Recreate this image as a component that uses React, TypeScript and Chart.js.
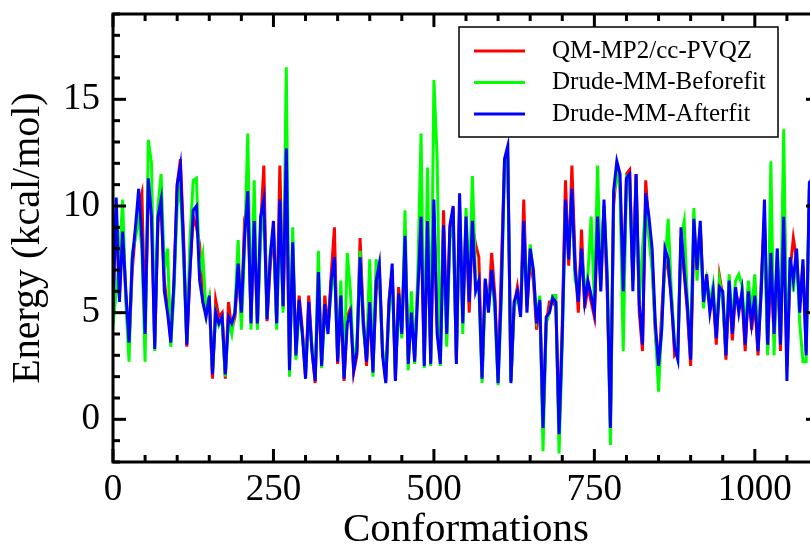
import React, { useEffect, useRef } from 'react';
import { Chart, registerables } from 'chart.js';

Chart.register(...registerables);

// Conformation spacing between sampled points
const STEP = 5;

// QM-MP2/cc-PVQZ energies (kcal/mol)
const QM_MP2 = [
  5.2, 9.8, 5.8, 9.0, 5.8, 3.5, 7.0, 8.8, 10.0, 10.6,
  4.3, 10.5, 9.8, 3.5, 9.2, 10.0, 6.5, 5.2, 3.8, 6.3,
  11.0, 12.2, 8.5, 3.4, 7.0, 9.5, 9.0, 8.2, 5.5, 5.0,
  5.6, 1.9, 5.6, 4.8, 5.0, 1.9, 5.5, 4.2, 4.8, 7.0,
  4.8, 9.4, 10.0, 4.8, 9.0, 4.4, 9.0, 11.9, 4.6, 7.2,
  8.8, 4.6, 11.9, 5.2, 11.5, 2.5, 8.0, 3.2, 5.8, 4.2,
  2.0, 5.8, 3.3, 1.7, 6.5, 2.7, 5.8, 4.2, 6.8, 9.0,
  2.6, 5.5, 1.8, 4.8, 5.2, 2.2, 3.0, 8.5, 4.8, 2.5,
  5.2, 2.4, 6.0, 7.0, 3.2, 1.8, 5.6, 7.0, 1.9, 6.2,
  4.2, 8.2, 2.8, 5.4, 2.9, 6.4, 9.0, 2.7, 9.0, 2.8,
  9.5, 4.5, 2.8, 9.8, 4.2, 9.0, 9.5, 2.8, 10.0, 4.8,
  9.3, 5.0, 9.0, 8.2, 7.6, 2.0, 6.5, 5.2, 7.8, 5.8,
  1.8, 7.1, 12.0, 12.5, 1.8, 5.3, 6.2, 5.0, 10.3, 5.3,
  7.5, 6.5, 4.2, 5.5, -0.3, 4.5, 5.5, 5.5, 5.3, -0.5,
  4.5, 11.2, 7.2, 11.9, 7.5, 5.0, 8.9, 5.2, 6.2, 5.5,
  4.8, 9.0, 6.5, 10.0, 6.0, -0.3, 10.0, 11.8, 11.0, 5.5,
  11.5, 11.7, 6.5, 11.5, 5.0, 3.2, 11.2, 9.0, 7.5, 4.0,
  2.2, 5.0, 7.5, 7.0, 5.8, 3.0, 3.2, 8.5, 6.8, 5.0,
  2.5, 8.5, 7.5, 9.0, 5.8, 6.5, 5.2, 5.8, 3.5, 6.7,
  5.8, 2.8, 6.3, 3.7, 6.0, 5.3, 5.8, 3.2, 6.2, 4.2,
  5.5, 3.0, 6.5, 9.5, 3.2, 7.5, 3.8, 7.5, 3.2, 11.5,
  2.5, 7.0, 8.5, 7.5, 5.5, 7.2, 3.2, 10.8, 11.0, 10.8,
];

// Drude-MM before fit
const DRUDE_BEFORE = [
  4.4, 6.0, 7.5, 10.3, 5.5, 2.7, 7.8, 8.5, 9.5, 8.0,
  2.7, 13.1, 12.0, 3.2, 10.0, 11.5, 7.0, 8.0, 3.4, 6.0,
  10.0, 10.9, 7.5, 3.6, 8.5, 11.2, 11.3, 6.8, 7.7, 5.0,
  5.7, 2.2, 5.0, 4.4, 4.7, 2.0, 4.6, 4.0, 5.2, 8.4,
  4.2, 8.0, 13.4, 4.2, 11.2, 4.2, 8.5, 10.0, 4.8, 7.8,
  9.0, 4.2, 9.8, 5.0, 16.5, 2.0, 9.0, 2.8, 5.2, 4.0,
  2.2, 5.0, 3.4, 2.0, 7.9, 2.4, 5.0, 4.4, 6.0, 7.3,
  2.9, 6.5, 2.1, 7.8, 6.0, 2.5, 3.6, 7.9, 4.2, 3.0,
  7.5, 2.0, 7.5, 6.5, 3.3, 2.0, 5.0, 6.8, 2.1, 5.5,
  3.8, 9.8, 2.3, 6.0, 2.6, 7.0, 13.4, 2.4, 11.8, 2.5,
  15.9, 12.3, 2.5, 8.5, 3.4, 8.5, 9.0, 2.9, 9.8, 4.0,
  9.9, 6.0, 11.4, 6.5, 6.2, 1.7, 6.0, 5.5, 6.8, 5.0,
  1.6, 5.5, 11.8, 12.6, 1.8, 5.2, 5.8, 5.2, 9.0, 5.5,
  8.2, 6.8, 4.8, 5.8, -1.5, 4.5, 5.0, 5.8, 5.8, -1.6,
  3.5, 10.0, 7.8, 10.5, 6.5, 6.0, 7.8, 6.0, 6.8, 9.5,
  5.5, 11.9, 6.2, 10.0, 7.0, -1.2, 10.5, 11.5, 10.8, 3.2,
  11.3, 11.0, 6.5, 11.0, 5.5, 8.0, 10.0, 8.5, 7.0, 4.2,
  1.3, 4.5, 7.2, 9.4, 6.0, 3.5, 3.0, 8.5, 9.3, 5.5,
  3.0, 9.9, 6.5, 9.0, 5.2, 6.5, 5.5, 6.3, 4.0, 6.5,
  5.5, 3.2, 6.8, 4.5, 6.5, 6.8, 6.3, 4.0, 6.5, 5.0,
  6.8, 3.5, 6.0, 9.0, 3.0, 12.1, 3.0, 8.0, 3.8, 13.6,
  2.5, 7.5, 6.0, 7.8, 4.5, 2.7, 2.7, 10.8, 11.0, 10.5,
];

// Drude-MM after fit
const DRUDE_AFTER = [
  5.0, 10.4, 5.5, 8.8, 6.0, 3.6, 7.5, 9.0, 10.8, 8.5,
  4.0, 11.3, 9.5, 3.3, 9.5, 10.3, 6.0, 5.0, 3.6, 6.5,
  11.0, 11.9, 8.0, 3.5, 7.0, 9.8, 10.0, 6.5, 5.5, 4.8,
  5.8, 2.1, 5.0, 4.5, 4.8, 2.1, 4.8, 4.5, 5.0, 7.3,
  5.0, 8.5, 10.7, 4.5, 9.3, 4.5, 9.5, 10.3, 4.7, 7.6,
  9.3, 4.5, 10.3, 5.3, 12.7, 2.3, 8.3, 3.0, 5.6, 4.0,
  1.9, 5.5, 3.2, 1.8, 6.9, 2.5, 5.4, 4.0, 6.5, 7.6,
  2.7, 5.8, 1.9, 4.5, 5.0, 2.3, 3.2, 7.6, 4.5, 2.7,
  5.5, 2.2, 6.5, 7.3, 3.0, 1.7, 5.4, 7.3, 1.8, 5.9,
  4.0, 8.6, 2.6, 5.0, 2.7, 6.0, 9.5, 2.5, 9.3, 2.6,
  10.3, 4.0, 2.6, 9.1, 4.0, 9.1, 10.0, 2.6, 10.6, 4.5,
  9.5, 5.5, 9.3, 6.0, 6.5, 1.9, 6.6, 5.0, 7.0, 5.5,
  1.7, 6.0, 12.2, 12.8, 1.7, 5.5, 6.0, 4.8, 9.3, 5.0,
  8.0, 7.0, 4.5, 5.6, -0.4, 4.8, 5.0, 5.7, 5.5, -0.7,
  4.0, 10.3, 7.5, 10.8, 7.0, 5.5, 8.0, 5.5, 6.5, 5.8,
  5.0, 9.5, 6.0, 10.3, 6.5, -0.4, 10.7, 12.1, 11.5, 6.0,
  11.3, 11.5, 6.0, 11.5, 5.4, 3.5, 10.6, 9.5, 8.0, 4.5,
  2.5, 4.2, 8.0, 7.5, 5.5, 3.4, 2.8, 9.0, 7.0, 5.3,
  2.8, 9.4, 7.0, 9.3, 5.5, 6.8, 5.0, 6.0, 3.8, 6.2,
  6.0, 3.0, 6.5, 4.0, 6.2, 5.0, 6.0, 3.5, 6.0, 4.5,
  5.8, 3.2, 6.0, 10.3, 3.5, 7.8, 4.0, 8.0, 3.5, 9.5,
  1.8, 7.6, 6.5, 8.0, 5.0, 7.5, 3.0, 11.1, 11.3, 11.0,
];

const SERIES_LABELS = ['QM-MP2/cc-PVQZ', 'Drude-MM-Beforefit', 'Drude-MM-Afterfit'];
const X_TICKS = [0, 250, 500, 750, 1000];
const Y_TICKS = [0, 5, 10, 15];

const FAMILY = '"Liberation Serif", "Times New Roman", Times, serif';

const toPoints = (values: number[]) => values.map((v, i) => ({ x: i * STEP, y: v }));

const frameTicksPlugin = {
  id: 'frameTicks',
  afterDatasetsDraw(chart: any) {
    const { ctx, chartArea: a, scales } = chart;
    const x = scales.x;
    const y = scales.y;
    const major = 13;
    const minor = 7;
    ctx.save();
    ctx.strokeStyle = '#000';
    ctx.lineWidth = 3;
    ctx.lineCap = 'butt';
    const seg = (x1: number, y1: number, x2: number, y2: number) => {
      ctx.beginPath();
      ctx.moveTo(x1, y1);
      ctx.lineTo(x2, y2);
      ctx.stroke();
    };
    for (let v = x.min; v <= x.max; v += 50) {
      const px = x.getPixelForValue(v);
      const len = v % 250 === 0 ? major : minor;
      seg(px, a.bottom, px, a.bottom - len);
      seg(px, a.top, px, a.top + len);
    }
    for (let v = y.min; v <= y.max; v += 1) {
      const py = y.getPixelForValue(v);
      const len = v % 5 === 0 ? major : minor;
      seg(a.left, py, a.left + len, py);
      seg(a.right, py, a.right - len, py);
    }
    ctx.strokeRect(a.left, a.top, a.right - a.left, a.bottom - a.top);
    ctx.restore();
  },
};

const boxLegendPlugin = {
  id: 'boxLegend',
  afterDraw(chart: any) {
    const { ctx } = chart;
    const left = 459;
    const top = 27;
    const width = 319;
    const height = 110;
    ctx.save();
    ctx.fillStyle = '#fff';
    ctx.fillRect(left, top, width, height);
    ctx.strokeStyle = '#000';
    ctx.lineWidth = 1.5;
    ctx.strokeRect(left, top, width, height);
    chart.data.datasets.forEach((ds: any, i: number) => {
      const ry = top + 24 + i * 31.5;
      ctx.strokeStyle = ds.borderColor;
      ctx.lineWidth = 3;
      ctx.beginPath();
      ctx.moveTo(left + 15, ry);
      ctx.lineTo(left + 66, ry);
      ctx.stroke();
      ctx.fillStyle = '#000';
      ctx.font = `25px ${FAMILY}`;
      ctx.textAlign = 'left';
      ctx.textBaseline = 'middle';
      ctx.fillText(ds.label, left + 93, ry);
    });
    ctx.restore();
  },
};

export default function App() {
  const ref = useRef<HTMLCanvasElement | null>(null);

  useEffect(() => {
    if (!ref.current) return;
    const chart = new Chart(ref.current, {
      type: 'line',
      data: {
        datasets: [
          { label: SERIES_LABELS[0], data: toPoints(QM_MP2), borderColor: '#ff0000', order: 2 },
          { label: SERIES_LABELS[1], data: toPoints(DRUDE_BEFORE), borderColor: '#00ff00', order: 1 },
          { label: SERIES_LABELS[2], data: toPoints(DRUDE_AFTER), borderColor: '#0000ff', order: 0 },
        ].map((d) => ({ ...d, borderWidth: 3, pointRadius: 0, tension: 0, fill: false })),
      },
      options: {
        responsive: false,
        animation: false,
        events: [],
        layout: { padding: { top: 14, right: 13, left: 0, bottom: 0 } },
        plugins: { legend: { display: false }, tooltip: { enabled: false } },
        scales: {
          x: {
            type: 'linear',
            min: 0,
            max: 1100,
            afterBuildTicks: (s: any) => {
              s.ticks = X_TICKS.map((v) => ({ value: v }));
            },
            afterFit: (s: any) => {
              s.height = 89;
              s.paddingLeft = 0;
              s.paddingRight = 0;
            },
            grid: { display: false, drawTicks: false },
            border: { display: false },
            ticks: {
              padding: 6,
              color: '#000',
              maxRotation: 0,
              autoSkip: false,
              callback: (v: any) => String(v),
              font: { family: FAMILY, size: 37 },
            },
            title: {
              display: true,
              text: 'Conformations',
              color: '#000',
              padding: 0,
              font: { family: FAMILY, size: 41, lineHeight: 1 },
            },
          },
          y: {
            type: 'linear',
            min: -2,
            max: 19,
            afterBuildTicks: (s: any) => {
              s.ticks = Y_TICKS.map((v) => ({ value: v }));
            },
            afterFit: (s: any) => {
              s.width = 113;
              s.paddingTop = 0;
              s.paddingBottom = 0;
            },
            grid: { display: false, drawTicks: false },
            border: { display: false },
            ticks: {
              padding: 13,
              color: '#000',
              autoSkip: false,
              callback: (v: any) => String(v),
              font: { family: FAMILY, size: 37 },
            },
            title: {
              display: true,
              text: 'Energy (kcal/mol)',
              color: '#000',
              padding: { top: 8, bottom: 0 },
              font: { family: FAMILY, size: 40, lineHeight: 1 },
            },
          },
        },
      },
      plugins: [frameTicksPlugin, boxLegendPlugin],
    } as any);
    return () => chart.destroy();
  }, []);

  return (
    <div
      style={{
        position: 'fixed',
        left: 0,
        top: 0,
        width: 810,
        height: 551,
        overflow: 'hidden',
        background: '#fff',
      }}
    >
      <canvas ref={ref} width={832} height={551} style={{ display: 'block' }} />
    </div>
  );
}
